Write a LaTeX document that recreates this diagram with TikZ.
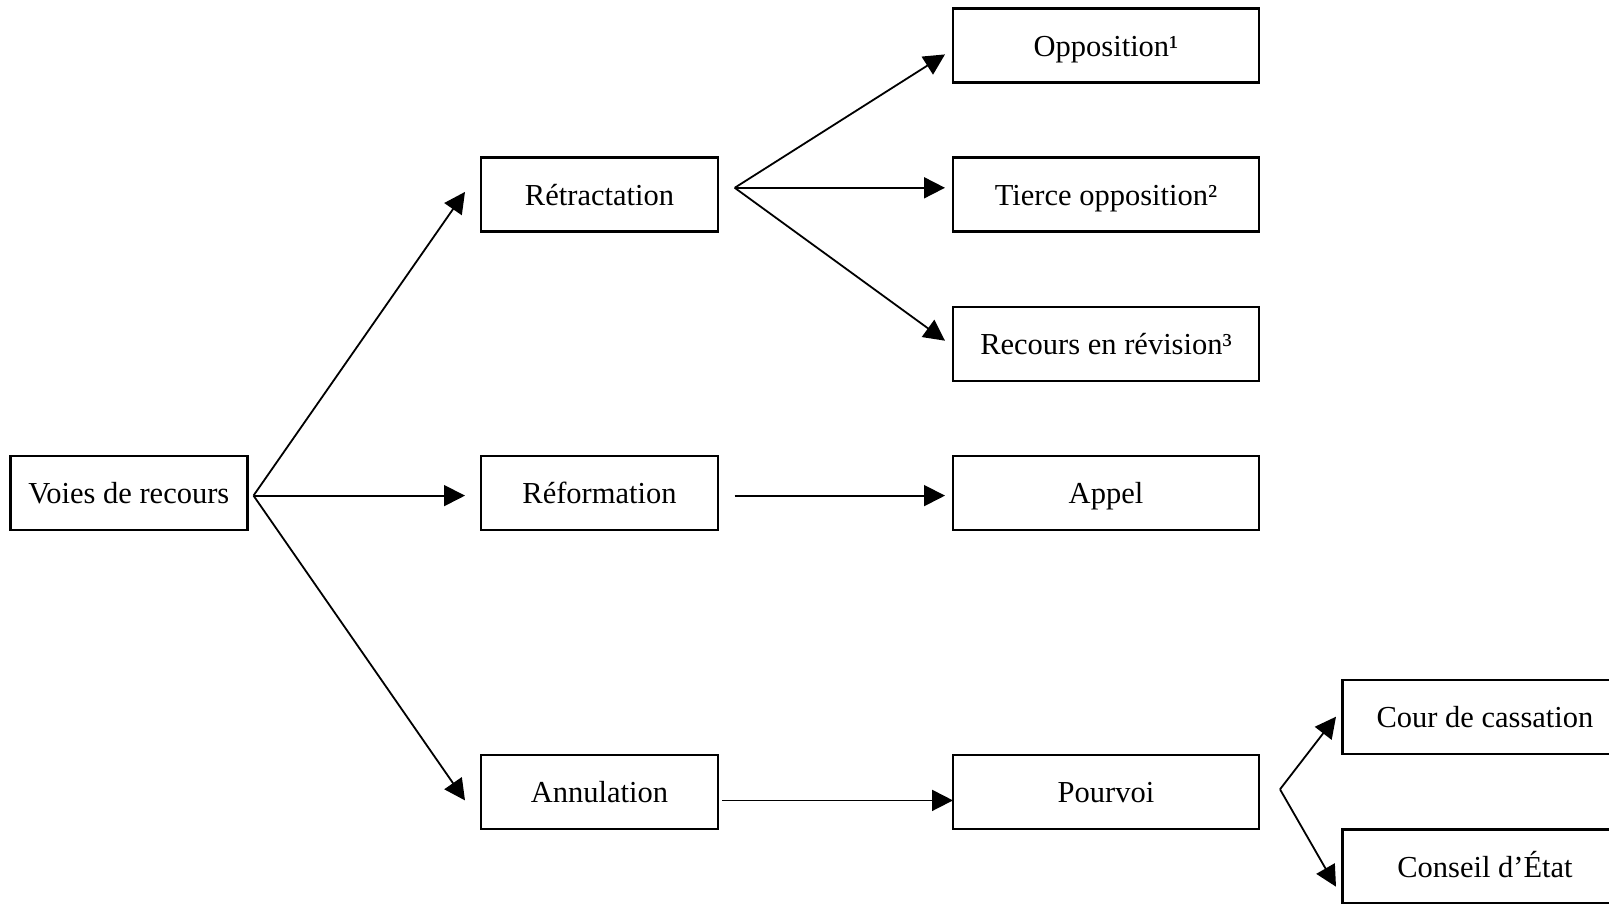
\documentclass[tikz,border=0pt]{standalone}
\usepackage{fontspec}
\setmainfont{Liberation Serif}
\usetikzlibrary{arrows.meta}
\begin{document}
\begin{tikzpicture}[x=1pt,y=-1pt,
  box/.style={draw,line width=2.4pt,minimum height=74pt,inner sep=0pt,text height=24pt,text depth=3pt,font=\fontsize{30.5}{36}\selectfont},
  conn/.style={line width=1.8pt,-{Triangle[length=21pt,width=21pt]}}]
\useasboundingbox (0,0) rectangle (1609,903);
\clip (0,0) rectangle (1609,903);
% nodes
\node[box,minimum width=237pt] (voies) at (128.8,493) {Voies de recours};
\node[box,minimum width=237pt] (retr) at (599.5,194.5) {Rétractation};
\node[box,minimum width=237pt] (refo) at (599.5,493) {Réformation};
\node[box,minimum width=237pt] (annu) at (599.5,792) {Annulation};
\node[box,minimum width=306pt] (oppo) at (1106,45.6) {Opposition¹};
\node[box,minimum width=306pt] (tier) at (1106,194.5) {Tierce opposition²};
\node[box,minimum width=306pt] (revi) at (1106,344) {Recours en révision³};
\node[box,minimum width=306pt] (appe) at (1106,493) {Appel};
\node[box,minimum width=306pt] (pour) at (1106,792) {Pourvoi};
\node[box,minimum width=285pt] (cour) at (1485,717) {Cour de cassation};
\node[box,minimum width=285pt] (cons) at (1485,866.5) {Conseil d’État};
% fork points and arrow tips
\coordinate (fv) at (253.5,495.6);
\coordinate (fr) at (734.7,187.8);
\coordinate (ff) at (734.7,495.6);
\coordinate (fa) at (722.4,800.4);
\coordinate (fp) at (1280,789.3);
\coordinate (tretr) at (465,191.9);
\coordinate (trefo) at (465,495.6);
\coordinate (tannu) at (465,800.4);
\coordinate (toppo) at (945,54.4);
\coordinate (ttier) at (945,187.8);
\coordinate (trevi) at (945,340.7);
\coordinate (tappe) at (945,495.6);
\coordinate (tpour) at (953,800.4);
\coordinate (tcour) at (1336,716.7);
\coordinate (tcons) at (1336,886.7);
% connectors
\draw[conn] (fv) -- (tretr);
\draw[conn] (fv) -- (trefo);
\draw[conn] (fv) -- (tannu);
\draw[conn] (fr) -- (toppo);
\draw[conn] (fr) -- (ttier);
\draw[conn] (fr) -- (trevi);
\draw[conn] (ff) -- (tappe);
\draw[conn] (fa) -- (tpour);
\draw[conn] (fp) -- (tcour);
\draw[conn] (fp) -- (tcons);
\end{tikzpicture}
\end{document}
